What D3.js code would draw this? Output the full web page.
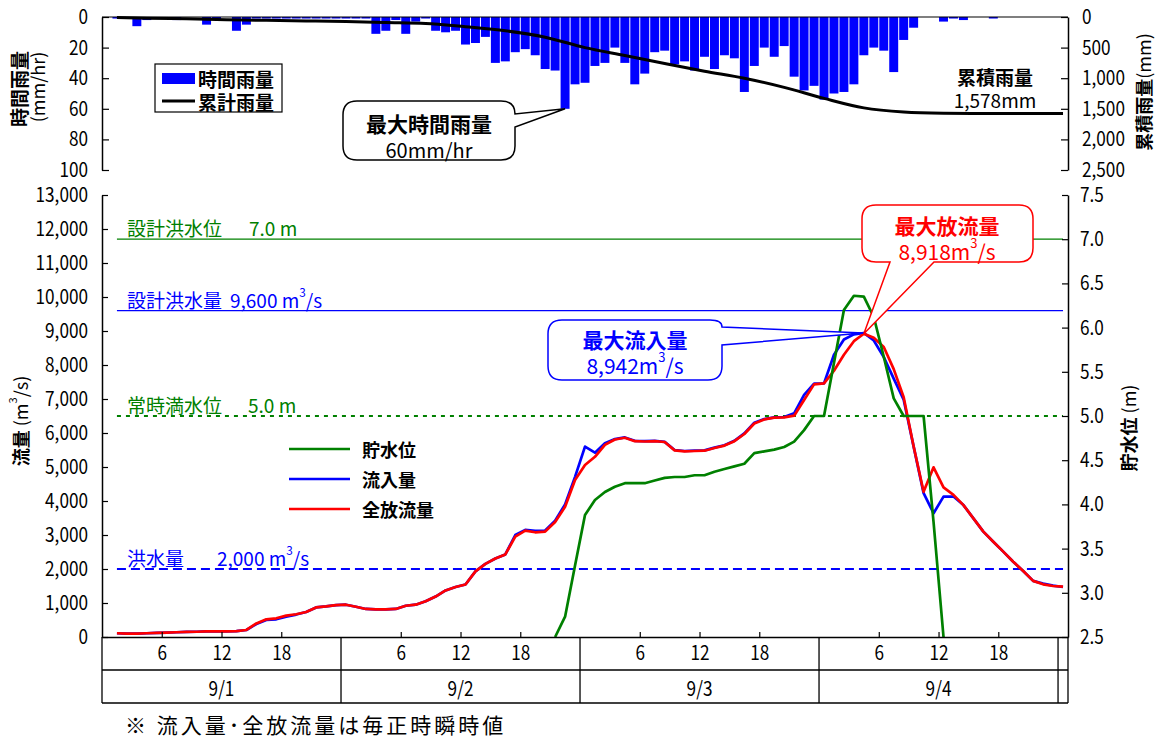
<!DOCTYPE html>
<html>
<head>
<meta charset="utf-8">
<script src="https://cdn.jsdelivr.net/npm/d3@7"></script>
<style>
  body { margin: 0; background: #fff; }
  text { font-family: "Noto Sans CJK JP", "Noto Sans", sans-serif; }
</style>
</head>
<body>
<script>
// ---------- data ----------
// hourly rainfall (mm/hr) per hour slot 0..96
const rainHourly = [0, 1, 0, 6, 2, 0, 0, 2, 0, 0, 5, 2, 0, 9, 5, 1, 1, 1, 1, 1,
  1, 1, 1, 1, 1, 1, 1, 11, 9, 2, 11, 3, 1, 9, 10, 9, 18, 17, 13, 30,
  29, 23, 21, 25, 34, 35, 60, 44, 43, 32, 30, 20, 30, 44, 37, 23, 22, 31, 29, 35,
  26, 34, 25, 27, 49, 32, 20, 26, 19, 39, 48, 45, 54, 50, 49, 44, 25, 20, 22, 36,
  15, 7, 0, 0, 3, 1, 2, 0, 0, 1, 0, 0, 0, 0, 0, 0, 0];
// cumulative rainfall (mm) at selected hour slots
const cumHours = [1, 4, 8, 12, 16, 20, 24, 28, 32, 36, 40, 44, 48, 52, 56, 60, 64, 68, 72, 76, 80, 84, 88, 92, 96];
const cumRain = [10, 20, 30, 45, 55, 65, 75, 90, 105, 160, 225, 330, 500, 630, 760, 885, 1000, 1150, 1330, 1485, 1552, 1573, 1578, 1578, 1578];
const totalRain = 1578;
const maxHourlyRain = 60;

// inflow / total outflow (m3/s), hour slots 1..96
const flowHours = d3.range(1, 97);
const inflow = [110, 100, 100, 110, 120, 130, 140, 150, 155, 165, 165, 165, 175, 206, 380, 500, 520, 600, 660, 735,
  870, 900, 940, 950, 890, 825, 815, 815, 825, 920, 950, 1050, 1190, 1370, 1470, 1545, 1930, 2150, 2310, 2430,
  3000, 3150, 3120, 3130, 3420, 3900, 4710, 5600, 5420, 5700, 5820, 5870, 5770, 5760, 5770, 5740, 5500, 5470, 5480, 5490,
  5570, 5640, 5770, 5990, 6300, 6410, 6460, 6470, 6580, 7120, 7450, 7460, 8300, 8750, 8900, 8942, 8720, 8230, 7600, 6980,
  5600, 4230, 3640, 4130, 4130, 3880, 3490, 3100, 2800, 2510, 2215, 1940, 1650, 1570, 1510, 1470];
const outflow = [110, 100, 100, 110, 120, 130, 140, 150, 155, 165, 165, 165, 175, 206, 400, 520, 550, 630, 670, 735,
  870, 900, 940, 950, 890, 825, 815, 815, 825, 920, 950, 1050, 1190, 1370, 1470, 1545, 1930, 2150, 2310, 2430,
  2950, 3130, 3080, 3100, 3380, 3830, 4620, 5060, 5300, 5650, 5810, 5860, 5760, 5750, 5760, 5735, 5490, 5460, 5470, 5480,
  5560, 5630, 5760, 5970, 6280, 6400, 6450, 6460, 6510, 6970, 7430, 7460, 7830, 8300, 8700, 8918, 8800, 8530, 7880, 7050,
  5600, 4270, 4990, 4400, 4180, 3880, 3490, 3100, 2800, 2510, 2215, 1940, 1650, 1550, 1500, 1480];
const maxInflow = 8942, maxOutflow = 8918;

// reservoir level (m), hour slots 45..84
const levelHours = d3.range(45, 85);
const level = [2.5, 2.73, 3.31, 3.88, 4.05, 4.14, 4.2, 4.24, 4.24, 4.24, 4.27, 4.3, 4.31, 4.31, 4.33, 4.33, 4.37, 4.4, 4.43, 4.46,
  4.58, 4.6, 4.62, 4.65, 4.71, 4.84, 5.0, 5.0, 5.6, 6.2, 6.36, 6.35, 6.12, 5.67, 5.2, 5.0, 5.0, 5.0, 3.8, 2.5];

// reference values
const designFloodLevel = 7.0, normalLevel = 5.0;
const designFloodFlow = 9600, floodFlow = 2000;

// axis ticks
const rainTicks = [0, 20, 40, 60, 80, 100];
const cumTicks = [0, 500, 1000, 1500, 2000, 2500];
const flowTicks = d3.range(0, 13001, 1000);
const levelTicks = [2.5, 3.0, 3.5, 4.0, 4.5, 5.0, 5.5, 6.0, 6.5, 7.0, 7.5];
const hourTicks = [6, 12, 18];
const days = ["9/1", "9/2", "9/3", "9/4"];

// ---------- setup ----------
const BLUE = "#0000ff", RED = "#ff0000", GREEN = "#008000";
const svg = d3.select("body").append("svg")
  .attr("width", 1158).attr("height", 740).style("display", "block");

const X0 = 102, X1 = 1068;
const x = d3.scaleLinear().domain([0, 97]).range([X0, X1]);
const cx = k => x(k + 0.5);

function label(parent, px, py, parts, o = {}) {
  const size = o.size || 19;
  const t = parent.append("text")
    .attr("x", px).attr("y", py)
    .attr("font-size", size)
    .attr("fill", o.color || "#000")
    .attr("font-weight", o.weight || "normal")
    .attr("text-anchor", o.anchor || "start");
  if (o.baseline) t.attr("dominant-baseline", o.baseline);
  if (o.spacing) t.attr("letter-spacing", o.spacing);
  if (o.transform) t.attr("transform", o.transform);
  let shifted = false;
  parts.forEach(p => {
    if (typeof p === "string") {
      const s = t.append("tspan").text(p);
      if (shifted) { s.attr("dy", size * 0.42); shifted = false; }
    } else if (p.sup) {
      t.append("tspan").attr("dy", -size * 0.42).attr("font-size", size * 0.62).text(p.sup);
      shifted = true;
    } else {
      const s = t.append("tspan").text(p.t).attr("font-weight", p.w || null);
      if (shifted) { s.attr("dy", size * 0.42); shifted = false; }
    }
  });
  return t;
}

// axis styling; tick labels are drawn slightly condensed
function styleAxis(g) {
  g.select(".domain").attr("stroke", "#000").attr("stroke-width", 1.5);
  g.selectAll(".tick line").attr("stroke", "#000").attr("stroke-width", 1.2);
  g.selectAll(".tick text").attr("font-size", 20).attr("fill", "#000")
    .attr("font-family", '"Noto Sans CJK JP","Noto Sans",sans-serif')
    .attr("transform", function () {
      const tx = +this.getAttribute("x") || 0;
      return `translate(${tx},0) scale(0.86,1) translate(${-tx},0)`;
    });
}

// ---------- top panel: rainfall ----------
const T0 = 17, T1 = 170;
const yRain = d3.scaleLinear().domain([0, 100]).range([T0, T1]);
const yCum = d3.scaleLinear().domain([0, 2500]).range([T0, T1]);

svg.append("g").selectAll("rect").data(rainHourly).join("rect")
  .attr("x", (d, i) => x(i) + 0.5)
  .attr("width", x(1) - x(0) - 1)
  .attr("y", T0)
  .attr("height", d => yRain(d) - T0)
  .attr("fill", BLUE);

svg.append("path")
  .datum(cumRain)
  .attr("fill", "none").attr("stroke", "#000").attr("stroke-width", 3)
  .attr("d", d3.line().x((d, i) => cx(cumHours[i])).y(d => yCum(d)).curve(d3.curveMonotoneX));

svg.append("line").attr("x1", X0).attr("x2", X1).attr("y1", T0).attr("y2", T0)
  .attr("stroke", "#000").attr("stroke-width", 1.2);

svg.append("g").attr("transform", `translate(${X0},0)`)
  .call(d3.axisLeft(yRain).tickValues(rainTicks).tickSize(-7).tickSizeOuter(0).tickPadding(14))
  .call(styleAxis);
svg.append("g").attr("transform", `translate(${X1},0)`)
  .call(d3.axisRight(yCum).tickValues(cumTicks).tickFormat(d3.format(",")).tickSize(-7).tickSizeOuter(0).tickPadding(14))
  .call(styleAxis);

// axis titles (top)
label(svg, 0, 0, ["時間雨量"], { size: 19, weight: "bold", anchor: "middle", baseline: "central", transform: "translate(18,89) rotate(-90)" });
label(svg, 0, 0, ["(mm/hr)"], { size: 18, anchor: "middle", baseline: "central", transform: "translate(37,87) rotate(-90)" });
label(svg, 0, 0, [{ t: "累積雨量", w: "bold" }, "(mm)"], { size: 18, anchor: "middle", baseline: "central", transform: "translate(1143,92) rotate(-90)" });

// legend (top)
const lgT = svg.append("g");
lgT.append("rect").attr("x", 155).attr("y", 64).attr("width", 127).attr("height", 48)
  .attr("fill", "#fff").attr("stroke", "#000").attr("stroke-width", 1.2);
lgT.append("rect").attr("x", 162).attr("y", 73).attr("width", 33).attr("height", 11).attr("fill", BLUE);
lgT.append("line").attr("x1", 162).attr("x2", 195).attr("y1", 101).attr("y2", 101).attr("stroke", "#000").attr("stroke-width", 3);
label(lgT, 198, 78, ["時間雨量"], { size: 19, weight: "bold", baseline: "central" });
label(lgT, 198, 101, ["累計雨量"], { size: 19, weight: "bold", baseline: "central" });

// total rainfall
label(svg, 995, 76, ["累積雨量"], { size: 19, weight: "bold", anchor: "middle", baseline: "central" });
label(svg, 995, 99, [d3.format(",")(totalRain) + "mm"], { size: 19, anchor: "middle", baseline: "central" });

// max hourly rainfall callout
{
  const tipX = cx(rainHourly.indexOf(maxHourlyRain)), tipY = yRain(maxHourlyRain);
  const p = `M357,101 H501 Q515,101 515,114 L${tipX},${tipY} L515,127 V146 Q515,160 501,160 H357 Q343,160 343,146 V115 Q343,101 357,101 Z`;
  svg.append("path").attr("d", p).attr("fill", "#fff").attr("stroke", "#000").attr("stroke-width", 1.5);
  label(svg, 429, 123, ["最大時間雨量"], { size: 21, weight: "bold", anchor: "middle", baseline: "central" });
  label(svg, 429, 149, [maxHourlyRain + "mm/hr"], { size: 20, anchor: "middle", baseline: "central" });
}

// ---------- bottom panel: flows and level ----------
const B0 = 195, B1 = 637;
const yFlow = d3.scaleLinear().domain([0, 13000]).range([B1, B0]);
const yLevel = d3.scaleLinear().domain([2.5, 7.5]).range([B1, B0]);

// reference lines
const refX0 = cx(1), refX1 = cx(96);
svg.append("line").attr("x1", refX0).attr("x2", refX1).attr("y1", yLevel(designFloodLevel)).attr("y2", yLevel(designFloodLevel))
  .attr("stroke", GREEN).attr("stroke-width", 1.3);
svg.append("line").attr("x1", refX0).attr("x2", refX1).attr("y1", yFlow(designFloodFlow)).attr("y2", yFlow(designFloodFlow))
  .attr("stroke", BLUE).attr("stroke-width", 1.3);
svg.append("line").attr("x1", refX0).attr("x2", refX1).attr("y1", yLevel(normalLevel)).attr("y2", yLevel(normalLevel))
  .attr("stroke", GREEN).attr("stroke-width", 2).attr("stroke-dasharray", "4,5");
svg.append("line").attr("x1", refX0).attr("x2", refX1).attr("y1", yFlow(floodFlow)).attr("y2", yFlow(floodFlow))
  .attr("stroke", BLUE).attr("stroke-width", 2).attr("stroke-dasharray", "9,5");

label(svg, 127, yLevel(designFloodLevel) - 12, ["設計洪水位"], { color: GREEN, baseline: "central" });
label(svg, 249, yLevel(designFloodLevel) - 12, [designFloodLevel.toFixed(1) + " m"], { color: GREEN, baseline: "central" });
label(svg, 127, yFlow(designFloodFlow) - 12, ["設計洪水量"], { color: BLUE, baseline: "central" });
label(svg, 230, yFlow(designFloodFlow) - 12, [d3.format(",")(designFloodFlow) + " m", { sup: "3" }, "/s"], { color: BLUE, baseline: "central" });
label(svg, 127, yLevel(normalLevel) - 12, ["常時満水位"], { color: GREEN, baseline: "central" });
label(svg, 248, yLevel(normalLevel) - 12, [normalLevel.toFixed(1) + " m"], { color: GREEN, baseline: "central" });
label(svg, 127, yFlow(floodFlow) - 12, ["洪水量"], { color: BLUE, baseline: "central" });
label(svg, 217, yFlow(floodFlow) - 12, [d3.format(",")(floodFlow) + " m", { sup: "3" }, "/s"], { color: BLUE, baseline: "central" });

// series
const flowLine = d3.line().x((d, i) => cx(flowHours[i])).y(d => yFlow(d));
svg.append("path").datum(inflow).attr("fill", "none").attr("stroke", BLUE).attr("stroke-width", 2.7)
  .attr("stroke-linejoin", "round").attr("d", flowLine);
svg.append("path").datum(outflow).attr("fill", "none").attr("stroke", RED).attr("stroke-width", 2.7)
  .attr("stroke-linejoin", "round").attr("d", flowLine);
svg.append("path").datum(level).attr("fill", "none").attr("stroke", GREEN).attr("stroke-width", 2.7)
  .attr("stroke-linejoin", "round")
  .attr("d", d3.line().x((d, i) => cx(levelHours[i])).y(d => yLevel(d)));

// axes
svg.append("g").attr("transform", `translate(${X0},0)`)
  .call(d3.axisLeft(yFlow).tickValues(flowTicks).tickFormat(d3.format(",")).tickSize(-6).tickSizeOuter(0).tickPadding(14))
  .call(styleAxis);
svg.append("g").attr("transform", `translate(${X1},0)`)
  .call(d3.axisRight(yLevel).tickValues(levelTicks).tickFormat(d3.format(".1f")).tickSize(-6).tickSizeOuter(0).tickPadding(12))
  .call(styleAxis);

const hourTickSlots = [];
days.forEach((d, i) => hourTicks.forEach(h => hourTickSlots.push(i * 24 + h)));
svg.append("g").attr("transform", `translate(0,${B1})`)
  .call(d3.axisBottom(x).tickValues(hourTickSlots).tickFormat(k => k % 24).tickSize(-5).tickSizeOuter(0).tickPadding(9))
  .call(styleAxis);

// date table under the time axis
const R1 = 670, R2 = 703;
const tbl = svg.append("g").attr("stroke", "#000").attr("stroke-width", 1.3);
[R1, R2].forEach(yy => tbl.append("line").attr("x1", X0).attr("x2", X1).attr("y1", yy).attr("y2", yy));
[0, 24, 48, 72, 96].map(k => x(k)).concat([X1]).forEach(xx =>
  tbl.append("line").attr("x1", xx).attr("x2", xx).attr("y1", B1).attr("y2", R2));
days.forEach((d, i) => {
  const dx = x(i * 24 + 12);
  label(svg, dx, (R1 + R2) / 2, [d], { size: 20, anchor: "middle", baseline: "central",
    transform: `translate(${dx},0) scale(0.86,1) translate(${-dx},0)` });
});

// axis titles (bottom)
label(svg, 0, 0, [{ t: "流量", w: "bold" }, " (m", { sup: "3" }, "/s)"], { size: 18, anchor: "middle", baseline: "central", transform: "translate(20,421) rotate(-90)" });
label(svg, 0, 0, [{ t: "貯水位", w: "bold" }, " (m)"], { size: 18, anchor: "middle", baseline: "central", transform: "translate(1128,428) rotate(-90)" });

// legend (bottom)
const lgB = [["貯水位", GREEN, 449], ["流入量", BLUE, 479], ["全放流量", RED, 509]];
lgB.forEach(([name, col, yy]) => {
  svg.append("line").attr("x1", 289).attr("x2", 350).attr("y1", yy).attr("y2", yy).attr("stroke", col).attr("stroke-width", 2.5);
  label(svg, 362, yy, [name], { size: 18, weight: "bold", baseline: "central" });
});

// max inflow callout
{
  const k = flowHours[inflow.indexOf(maxInflow)];
  const tx = cx(k), ty = yFlow(maxInflow);
  const p = `M562,320 H710 Q722,320 722,327 L${tx},${ty} L722,345 V366 Q722,380 708,380 H562 Q548,380 548,366 V334 Q548,320 562,320 Z`;
  svg.append("path").attr("d", p).attr("fill", "#fff").attr("stroke", BLUE).attr("stroke-width", 1.5);
  label(svg, 635, 339, ["最大流入量"], { size: 21, weight: "bold", color: BLUE, anchor: "middle", baseline: "central" });
  label(svg, 635, 365, [d3.format(",")(maxInflow) + "m", { sup: "3" }, "/s"], { size: 21, color: BLUE, anchor: "middle", baseline: "central" });
}
// max outflow callout
{
  const k = flowHours[outflow.indexOf(maxOutflow)];
  const tx = cx(k), ty = yFlow(maxOutflow);
  const p = `M876,205 H1019 Q1033,205 1033,219 V248 Q1033,262 1019,262 H934 L${tx},${ty} L890,262 H876 Q862,262 862,248 V219 Q862,205 876,205 Z`;
  svg.append("path").attr("d", p).attr("fill", "#fff").attr("stroke", RED).attr("stroke-width", 1.5);
  label(svg, 947, 225, ["最大放流量"], { size: 21, weight: "bold", color: RED, anchor: "middle", baseline: "central" });
  label(svg, 947, 251, [d3.format(",")(maxOutflow) + "m", { sup: "3" }, "/s"], { size: 21, color: RED, anchor: "middle", baseline: "central" });
}

// footnote
label(svg, 125, 724, ["※ 流入量･全放流量は毎正時瞬時値"], { size: 21, spacing: 3, baseline: "central" });
</script>
</body>
</html>
